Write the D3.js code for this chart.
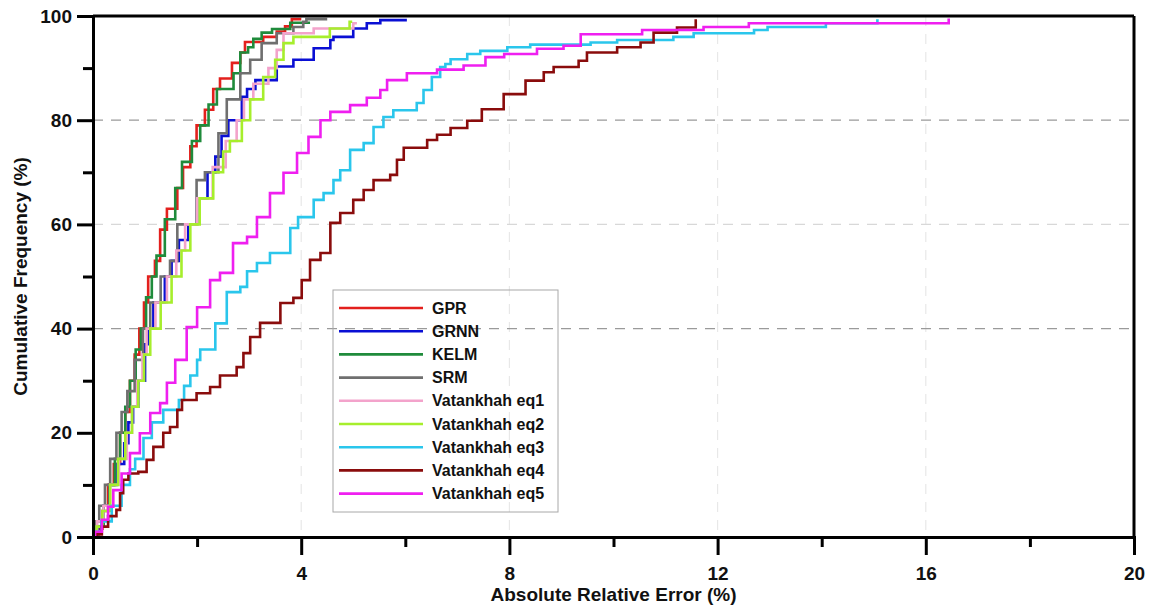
<!DOCTYPE html>
<html>
<head>
<meta charset="utf-8">
<script src="https://cdn.jsdelivr.net/npm/d3@7"></script>
<style>
  body { margin: 0; background: #fff; }
  text { font-family: "Liberation Sans", Arial, sans-serif; font-weight: bold; fill: #111; }
</style>
</head>
<body>
<svg id="chart" width="1162" height="608"></svg>
<script>
// series names, in legend order
const seriesNames = ['GPR', 'GRNN', 'KELM', 'SRM', 'Vatankhah eq1', 'Vatankhah eq2',
  'Vatankhah eq3', 'Vatankhah eq4', 'Vatankhah eq5']

// [absolute relative error %, cumulative frequency %]
const gpr = [[0,0],[0.07,1.6],[0.18,5],[0.29,10],[0.4,14],[0.52,20],[0.62,24],[0.71,30],[0.8,35],
  [0.89,40],[0.98,45],[1.06,50],[1.19,53],[1.29,59],[1.42,63],[1.62,67],[1.73,71],[1.87,75],
  [1.99,79],[2.15,82],[2.31,86],[2.44,88],[2.67,91],[2.83,93],[2.92,95],[3.27,96],[3.53,97],
  [3.69,98],[3.82,99.4],[4.0,99.4]]
const grnn = [[0,0],[0.1,2],[0.2,6],[0.32,10],[0.45,14],[0.6,18],[0.68,22],[0.77,25],[0.87,30],
  [1.0,37],[1.06,40],[1.16,45],[1.38,50],[1.51,53],[1.65,57],[1.83,60],[2.0,65],[2.2,70],
  [2.35,73],[2.47,77],[2.6,80],[2.86,84.5],[2.96,86],[3.12,87.7],[3.53,90.3],[3.85,91.6],
  [4.24,93.8],[4.56,95.4],[4.62,96],[5.0,97.6],[5.26,98.6],[5.52,99.2],[6.03,99.2]]
const kelm = [[0,0],[0.08,2],[0.2,6],[0.32,10],[0.42,15],[0.52,20],[0.62,25],[0.71,30],[0.82,36],
  [0.92,40],[1.02,46],[1.13,50],[1.22,54],[1.38,61],[1.58,67],[1.71,72],[1.9,76],[2.06,79],
  [2.22,83],[2.38,86],[2.7,89],[2.83,93],[2.98,94],[3.08,95.6],[3.24,96.8],[3.44,97.5],
  [3.79,98.7],[4.17,98.7]]
const srm = [[0,0],[0.05,3],[0.12,6],[0.23,10],[0.33,15],[0.45,20],[0.55,24],[0.66,28],[0.8,34],
  [0.96,40],[1.1,45],[1.3,50],[1.48,53],[1.62,60],[1.99,68.5],[2.15,70],[2.41,77.5],[2.57,84],
  [2.83,89],[3.02,91.6],[3.24,94.8],[3.53,96.7],[3.85,97.9],[4.04,98.9],[4.1,99.4],[4.5,99.4]]
const eq1 = [[0,0],[0.08,3],[0.2,6],[0.33,10],[0.5,15],[0.65,20],[0.75,25],[0.85,30],[0.95,35],
  [1.03,40],[1.2,45],[1.42,50],[1.6,55],[1.77,60],[2.0,65],[2.3,71],[2.55,76],[2.76,80],
  [2.9,84],[3.08,87],[3.37,90],[3.53,93.5],[3.66,96.7],[4.24,97.6],[5.0,98.6],[5.07,98.6]]
const eq2 = [[0,0],[0.07,2],[0.18,5],[0.33,10],[0.48,15],[0.62,20],[0.75,25],[0.87,30],[0.98,35],
  [1.1,40],[1.3,45],[1.51,50],[1.7,55],[1.87,60],[2.05,65],[2.31,70],[2.5,74],[2.63,76],
  [2.86,80],[3.02,84],[3.27,88.3],[3.5,91.6],[3.66,94.8],[3.85,96],[4.55,97.6],[4.93,98.9],
  [4.98,98.9]]
const eq3 = [[0,0],[0.03,1],[0.16,3],[0.36,6],[0.55,10],[0.71,13],[0.81,15],[0.97,19],[1.13,22],
  [1.35,24.4],[1.65,26.3],[1.75,29],[1.87,31],[2.0,34],[2.06,36],[2.35,41],[2.57,47],[2.83,48],
  [2.96,51],[3.15,52.6],[3.4,54.5],[3.79,59.3],[3.94,61.4],[4.24,64.7],[4.43,66],[4.62,68.5],
  [4.75,70.4],[4.94,74.3],[5.2,75.6],[5.39,78.7],[5.58,80.6],[5.77,81.9],[6.22,83.3],[6.35,85.8],
  [6.51,88.3],[6.67,90.2],[6.77,90.8],[6.87,91.7],[7.19,92.7],[7.44,93.3],[7.96,94],[8.4,94.5],
  [9.56,94.9],[10.07,95.4],[11.15,96],[11.54,96.7],[12.7,97.3],[12.96,97.9],[14.08,98.6],
  [15.07,99.4]]
const eq4 = [[0,0],[0.07,0.5],[0.17,2],[0.29,4],[0.45,5.2],[0.52,8.4],[0.58,11],[0.68,12.2],
  [0.87,12.5],[1.03,14.8],[1.16,17.3],[1.35,20],[1.48,21.1],[1.62,24.4],[1.71,26.3],[1.99,27.6],
  [2.25,28.8],[2.44,31],[2.76,32.6],[2.89,35.3],[3.02,38.4],[3.21,41.1],[3.6,44.9],[3.85,45.9],
  [4.01,49.3],[4.17,53.2],[4.37,54.5],[4.56,60.3],[4.75,62.2],[5.0,64.7],[5.2,66.6],[5.39,68.5],
  [5.71,69.5],[5.84,72.4],[5.97,74.7],[6.42,76.2],[6.61,77.2],[6.87,78.5],[7.19,79.9],[7.47,82.1],
  [7.89,85],[8.31,87.6],[8.66,89.2],[8.85,90.2],[9.33,91.4],[9.49,93],[10.07,94],[10.52,94.9],
  [10.77,96.8],[11.22,97.8],[11.58,99.4]]
const eq5 = [[0,0],[0.04,1],[0.17,3.3],[0.29,5.8],[0.39,9],[0.55,12.2],[0.71,16.1],[0.9,19.9],
  [1.1,23.8],[1.29,25.7],[1.42,29.6],[1.58,34],[1.8,40.3],[2.0,44.1],[2.25,49.3],[2.44,50.7],
  [2.69,56.4],[2.96,57.6],[3.15,61.4],[3.4,66],[3.66,69.9],[3.92,73.7],[4.14,76.8],[4.37,80],
  [4.56,81.6],[4.94,82.9],[5.26,84.3],[5.52,85.8],[5.65,87.7],[6.03,89],[6.61,89.7],[7.12,90.5],
  [7.54,92.1],[7.9,92.7],[8.53,93.7],[9.04,94.3],[9.37,96.5],[10.55,97.3],[11.73,97.9],
  [12.6,98.6],[16.44,99.5]]

const seriesValues = [gpr, grnn, kelm, srm, eq1, eq2, eq3, eq4, eq5]

const xMajorTicks = [0, 4, 8, 12, 16, 20]
const xMinorTicks = [2, 6, 10, 14, 18]
const yMajorTicks = [0, 20, 40, 60, 80, 100]
const yMinorTicks = [10, 30, 50, 70, 90]
const yDarkGrid = [40, 80]
const yLightGrid = [60]
const xLightGrid = [4, 8, 12, 16]
const xTitle = 'Absolute Relative Error (%)'
const yTitle = 'Cumulative Frequency (%)'

const colors = ['#e3201d', '#0a0fd4', '#1f8b3b', '#6f6f6f', '#f3a3cb', '#a6ee2c',
  '#2ac6ec', '#8a0c0c', '#ef1ff0']

const margin = {top: 16, right: 28, bottom: 71, left: 93}
const width = 1162 - margin.left - margin.right
const height = 608 - margin.top - margin.bottom

const svg = d3.select('#chart')
const chart = svg.append('g')
  .attr('transform', `translate(${margin.left}, ${margin.top})`)

const x = d3.scaleLinear().domain([0, 20]).range([0, width])
const y = d3.scaleLinear().domain([0, 100]).range([height, 0])

// grid
chart.selectAll('.vgrid').data(xLightGrid)
  .enter().append('line')
    .attr('x1', (d) => x(d)).attr('x2', (d) => x(d))
    .attr('y1', 0).attr('y2', height)
    .attr('stroke', '#e8e8e8').attr('stroke-width', 1.2)
    .attr('stroke-dasharray', '10,8')
chart.selectAll('.hgrid-light').data(yLightGrid)
  .enter().append('line')
    .attr('x1', 0).attr('x2', width)
    .attr('y1', (d) => y(d)).attr('y2', (d) => y(d))
    .attr('stroke', '#d8d8d8').attr('stroke-width', 1.2)
    .attr('stroke-dasharray', '10,8')
chart.selectAll('.hgrid-dark').data(yDarkGrid)
  .enter().append('line')
    .attr('x1', 0).attr('x2', width)
    .attr('y1', (d) => y(d)).attr('y2', (d) => y(d))
    .attr('stroke', '#9a9a9a').attr('stroke-width', 1.2)
    .attr('stroke-dasharray', '10,8')

// curves
const line = d3.line()
  .x((d) => x(d[0]))
  .y((d) => y(d[1]))
  .curve(d3.curveStepAfter)

chart.selectAll('.curve').data(seriesValues)
  .enter().append('path')
    .attr('d', line)
    .attr('fill', 'none')
    .attr('stroke', (d, i) => colors[i])
    .attr('stroke-width', 2.6)

// frame top and right
chart.append('line')
  .attr('x1', 0).attr('x2', width).attr('y1', 0).attr('y2', 0)
  .attr('stroke', '#000').attr('stroke-width', 3)
chart.append('line')
  .attr('x1', width).attr('x2', width).attr('y1', 0).attr('y2', height)
  .attr('stroke', '#000').attr('stroke-width', 3)

// axes
function styleAxis(g) {
  g.select('.domain').attr('stroke-width', 3).attr('stroke', '#000')
  g.selectAll('.tick line').attr('stroke-width', 3).attr('stroke', '#000')
  g.selectAll('.tick text').attr('font-size', 19).attr('fill', '#111')
    .attr('font-family', '"Liberation Sans", Arial, sans-serif').attr('font-weight', 'bold')
}

chart.append('g')
  .attr('transform', `translate(0, ${height})`)
  .call(d3.axisBottom(x).tickValues(xMinorTicks).tickSize(10).tickFormat(''))
  .call(styleAxis)
chart.append('g')
  .attr('transform', `translate(0, ${height})`)
  .call(d3.axisBottom(x).tickValues(xMajorTicks).tickSize(18).tickPadding(12).tickFormat(d3.format('d')))
  .call(styleAxis)

chart.append('g')
  .call(d3.axisLeft(y).tickValues(yMinorTicks).tickSize(10).tickFormat(''))
  .call(styleAxis)
chart.append('g')
  .call(d3.axisLeft(y).tickValues(yMajorTicks).tickSize(16).tickPadding(5).tickFormat(d3.format('d')))
  .call(styleAxis)

// axis titles
svg.append('text')
  .attr('x', margin.left + width / 2)
  .attr('y', 601)
  .attr('text-anchor', 'middle')
  .attr('font-size', 19)
  .text(xTitle)
svg.append('text')
  .attr('transform', `translate(27, ${margin.top + height / 2}) rotate(-90)`)
  .attr('text-anchor', 'middle')
  .attr('font-size', 19)
  .text(yTitle)

// legend
const legend = svg.append('g')
  .attr('transform', 'translate(333, 290)')
legend.append('rect')
  .attr('width', 225).attr('height', 222)
  .attr('fill', 'none').attr('stroke', '#a8a8a8').attr('stroke-width', 1)

const rows = legend.selectAll('.row').data(seriesNames)
  .enter().append('g')
    .attr('transform', (d, i) => `translate(0, ${18 + i * 23.2})`)
rows.append('line')
  .attr('x1', 6).attr('x2', 90)
  .attr('stroke', (d, i) => colors[i])
  .attr('stroke-width', 2.6)
rows.append('text')
  .attr('x', 99)
  .attr('dy', '0.35em')
  .attr('font-size', 16)
  .text((d) => d)
</script>
</body>
</html>
